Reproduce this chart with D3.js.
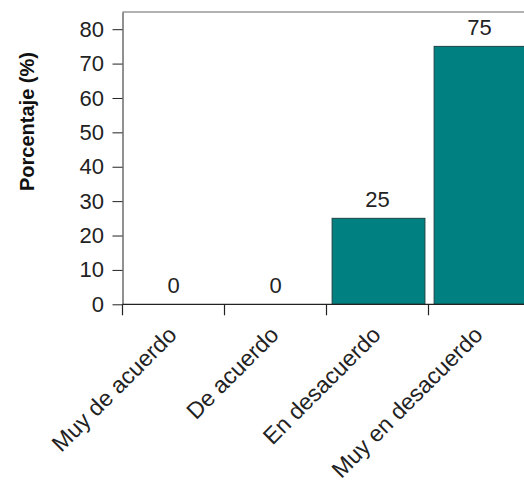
<!DOCTYPE html>
<html><head><meta charset="utf-8">
<script src="https://cdn.jsdelivr.net/npm/d3@7/dist/d3.min.js"></script>
<style>body{margin:0;background:#fff}svg{display:block}</style>
</head><body>
<svg id="c" width="524" height="483"></svg>
<script>
const categories = ["Muy de acuerdo","De acuerdo","En desacuerdo","Muy en desacuerdo"];
const values = [0, 0, 25, 75];
const yTicks = [0,10,20,30,40,50,60,70,80];
const yTitle = "Porcentaje (%)";

const svg = d3.select("#c");
const font = "Arial, 'Liberation Sans', sans-serif";
const x0 = 122.5, bw = 102, yBase = 304.3, yTop = 12;
const x = d3.scaleBand().domain(categories).range([x0, x0 + bw*categories.length]).padding(0);
const y = d3.scaleLinear().domain([0,85]).range([yBase, yTop]);

// top frame line
svg.append("line").attr("x1",x0).attr("x2",524).attr("y1",y(85)).attr("y2",y(85))
  .attr("stroke","#666").attr("stroke-width",1);

// bars
svg.selectAll("rect.bar").data(categories).enter().append("rect")
  .attr("class","bar")
  .attr("x", c => x(c) + x.bandwidth()*0.055)
  .attr("width", x.bandwidth()*0.91)
  .attr("y", (c,i) => y(values[i]))
  .attr("height", (c,i) => y(0) - y(values[i]))
  .attr("fill","#008080").attr("stroke","#1c4444").attr("stroke-width",1);

// value labels
svg.selectAll("text.val").data(categories).enter().append("text")
  .attr("x", c => x(c) + x.bandwidth()/2)
  .attr("y", (c,i) => y(values[i]) - 11.5)
  .attr("text-anchor","middle").attr("font-family",font).attr("font-size",22)
  .attr("fill","#222").text((c,i) => values[i]);

// y axis
const ya = d3.axisLeft(y).tickValues(yTicks).tickSize(10).tickPadding(8.5).tickSizeOuter(0);
const gy = svg.append("g").attr("transform",`translate(${x0},0)`).call(ya);
gy.attr("font-size",null).attr("font-family",null);
gy.select(".domain").attr("stroke","#222");
gy.selectAll(".tick line").attr("stroke","#222");
gy.selectAll(".tick text").attr("font-family",font).attr("font-size",22).attr("fill","#222");

// x axis: baseline and boundary ticks
svg.append("line").attr("x1",x0).attr("x2",524).attr("y1",yBase).attr("y2",yBase)
  .attr("stroke","#222").attr("stroke-width",1.2);
svg.selectAll("line.xt").data(categories).enter().append("line")
  .attr("x1", c => x(c)).attr("x2", c => x(c))
  .attr("y1", yBase).attr("y2", yBase + 11)
  .attr("stroke","#222").attr("stroke-width",1.2);

// x labels
svg.selectAll("text.xl").data(categories).enter().append("text")
  .attr("transform", c => `translate(${x(c) + x.bandwidth()/2 + 4.5},${yBase + 32}) rotate(-45)`)
  .attr("text-anchor","end").attr("font-family",font).attr("font-size",23)
  .attr("fill","#222").text(c => c);

// y title
svg.append("text").attr("transform",`translate(34,121.5) rotate(-90)`)
  .attr("text-anchor","middle").attr("font-family",font).attr("font-size",20)
  .attr("font-weight","bold").attr("fill","#111").text(yTitle);
</script>
</body></html>
